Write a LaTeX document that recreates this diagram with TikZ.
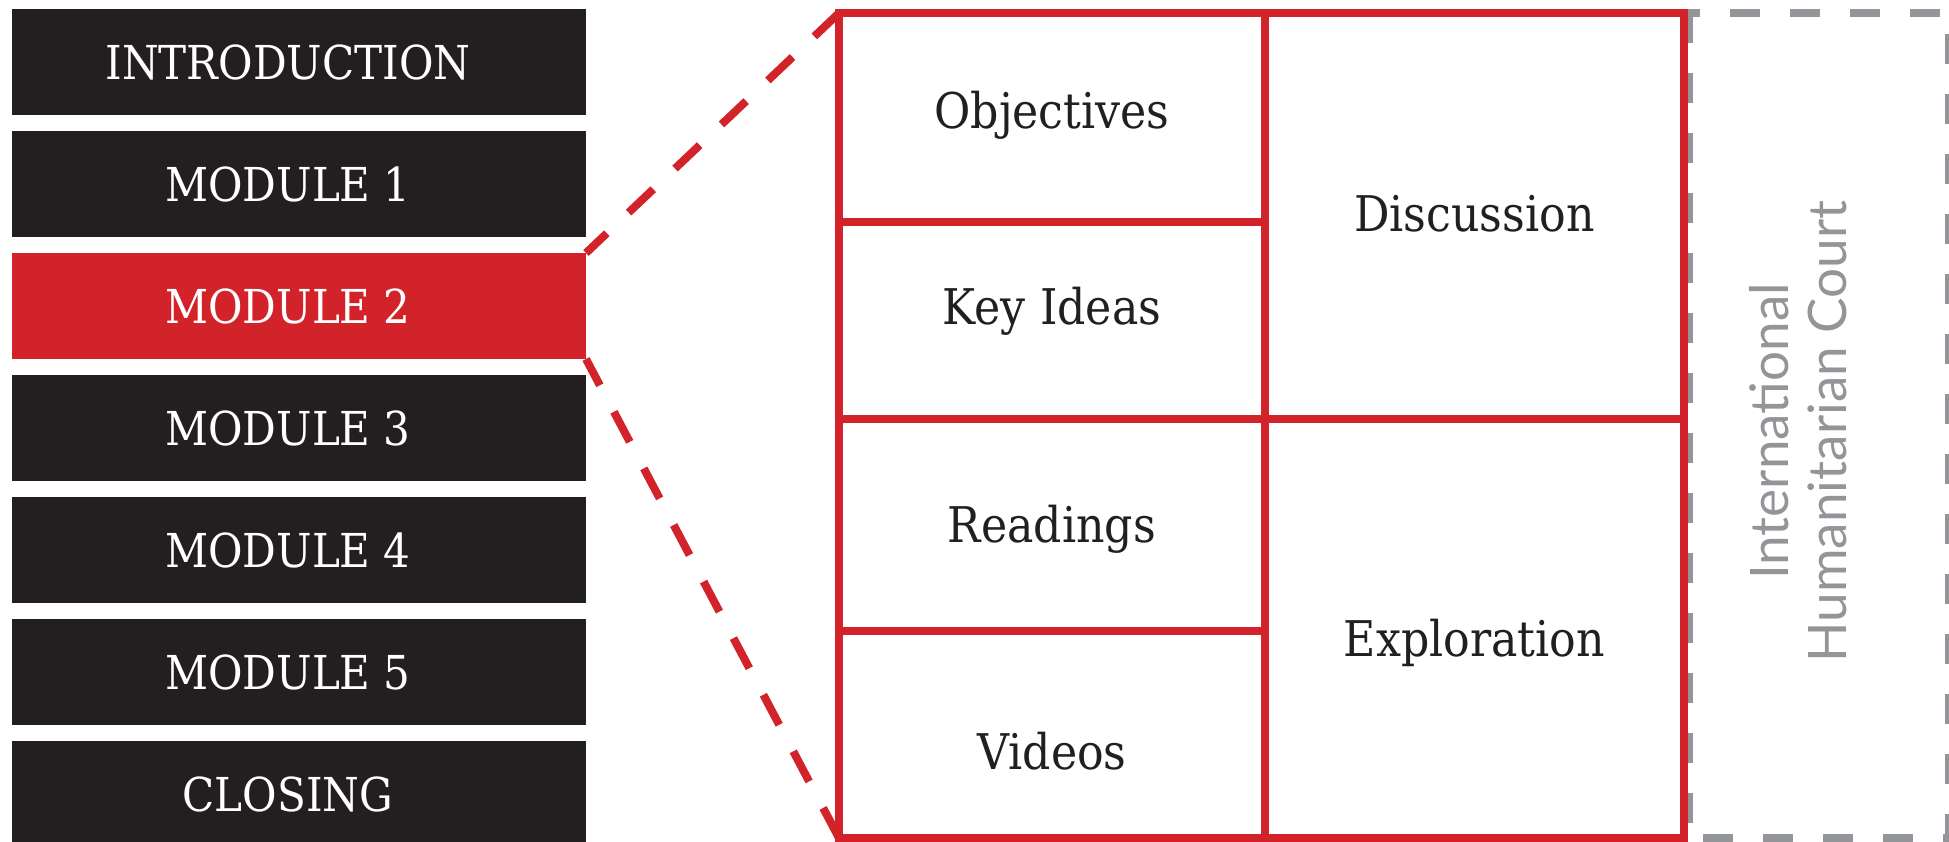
\documentclass[tikz,border=0pt]{standalone}
\usepackage{fontspec}
\usetikzlibrary{positioning,calc,backgrounds}

\newfontfamily\slabfont[FakeStretch=0.9]{DejaVu Serif}
\newfontfamily\courtfont{Lato}

\definecolor{modred}{HTML}{D2232A}
\definecolor{modblack}{HTML}{231F20}
\definecolor{courtgray}{HTML}{939598}

\begin{document}
\begin{tikzpicture}[
  x = 0.1mm, y = -0.1mm,
  node distance = 1.6mm,
  module/.style = {fill = modblack, text = white, inner sep = 0pt, outer sep = 0pt,
                   minimum width = 57.4mm, minimum height = 10.6mm,
                   font = \slabfont\fontsize{13.3}{16}\selectfont,
                   text height = 9.7pt, text depth = 0pt,
                   execute at end node = \hspace*{2.2mm}},
  current/.style = {fill = modred},
  cell/.style = {draw = modred, line width = 0.8mm, inner sep = 0pt, outer sep = 0pt,
                 minimum width = 42.6mm, anchor = north west, text = modblack,
                 font = \slabfont\fontsize{14}{17}\selectfont,
                 text height = 10.2pt, text depth = 0pt},
  zoomline/.style = {draw = modred, line width = 0.8mm, dash pattern = on 3.4mm off 3mm},
  courtbox/.style = {draw = courtgray, line width = 0.85mm, dash pattern = on 3mm off 3mm,
                     rotate = 90, anchor = north,
                     minimum width = 82.5mm, minimum height = 26.1mm},
  courttext/.style = {text = courtgray, align = center, rotate = 90, inner sep = 0pt,
                      font = \courtfont\fontsize{15.1}{16.5}\selectfont},
  ]
  \useasboundingbox (0,0) rectangle (1949,842);

  % course outline
  \node[module, anchor = north west] (intro) at (12,9) {INTRODUCTION};
  \node[module, below = of intro] (mod1) {MODULE 1};
  \node[module, current, below = of mod1] (mod2) {MODULE 2};
  \node[module, below = of mod2] (mod3) {MODULE 3};
  \node[module, below = of mod3] (mod4) {MODULE 4};
  \node[module, below = of mod4] (mod5) {MODULE 5};
  \node[module, below = of mod5] (closing) {CLOSING};

  % inside one module
  \node[cell, minimum height = 20.9mm, text depth = 4.2pt] (obj) at (839,13) {Objectives};
  \node[cell, minimum height = 19.7mm, text depth = 7.8pt, below = 0pt of obj] (ideas) {Key Ideas};
  \node[cell, minimum height = 21.2mm, below = 0pt of ideas] (read) {Readings};
  \node[cell, minimum height = 20.7mm, text height = 20.1pt, below = 0pt of read] (vid) {Videos};
  \node[cell, minimum width = 41.9mm, minimum height = 40.6mm, text depth = 1.4pt] (disc) at (obj.north east) {Discussion};
  \node[cell, minimum width = 41.9mm, minimum height = 41.9mm, text height = 15.8pt] (expl) at (disc.south west) {Exploration};

  \begin{scope}[on background layer]
    \node[courtbox] (court) at ($(disc.north east)!.5!(expl.south east)$) {};
  \end{scope}
  \node[courttext] (courtname) at ($(court.center)+(-21,6)$)
    {International\\Humanitarian Court};

  \draw[zoomline] (obj.north west) -- (mod2.north east);
  \draw[zoomline] (vid.south west) -- (mod2.south east);
\end{tikzpicture}
\end{document}
